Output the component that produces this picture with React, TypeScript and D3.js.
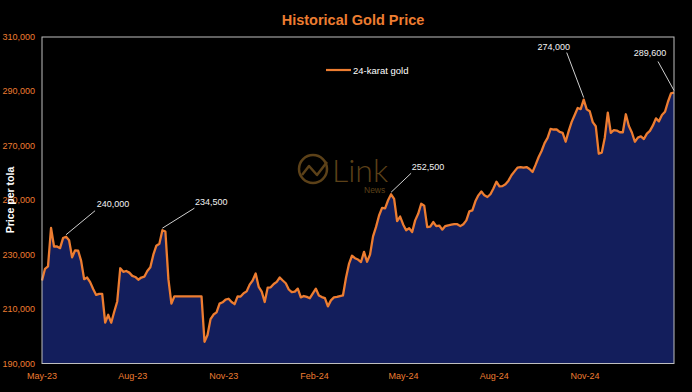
import React from 'react';
import * as d3 from 'd3';

// 24-karat gold, PKR thousands per tola, evenly spaced from May-23 to end Jan-25
const prices = [
  220.5, 224.8, 225.7, 239.8, 233, 233, 232.4, 236.1, 236.6, 235.3,
  229, 231.6, 231.5, 227.7, 221, 221.6, 219.9, 217.4, 215.2, 215.6,
  215.6, 205, 207.9, 205, 209, 212.8, 225, 223.7, 224, 223.4,
  222.2, 221.8, 220.8, 221.6, 221.9, 224, 225.4, 230, 233.3, 234,
  239, 238.5, 221, 212, 214.7, 214.7, 214.7, 214.7, 214.7, 214.7,
  214.7, 214.7, 214.7, 214.7, 198, 200.5, 206.3, 208, 208.8, 212,
  212.5, 213.5, 213.8, 212.6, 211.8, 214.7, 214.6, 215.8, 216.5, 219,
  220.5, 223.1, 218.2, 216.4, 212.6, 217.9, 218, 219.2, 220, 221.6,
  220.5, 219.5, 217.2, 216.2, 216.4, 217.5, 214.3, 214.8, 214.5, 214,
  215.8, 217.5, 215, 214.4, 214, 211, 213.2, 214.3, 214.5, 214.8,
  215, 221.4, 226.6, 229.6, 228.7, 228.2, 227.3, 231, 227.4, 230,
  236.7, 240.2, 244.4, 247.2, 247, 250, 252.2, 250.5, 242.3, 244,
  241.1, 239, 239.7, 238.3, 242.6, 245, 248.7, 248, 240.1, 240.3,
  242, 240.5, 240.7, 239.2, 240.5, 240.8, 241, 241.2, 241.2, 240.5,
  241.2, 242.6, 245.9, 246.3, 249.6, 251.8, 253.2, 251.8, 251.2, 252.2,
  254.3, 256.8, 255.1, 255.2, 255.9, 257.2, 259.2, 260.6, 262, 262.2,
  262, 262.2, 261.5, 260.4, 263, 265.8, 268.1, 271, 272.9, 276.2,
  276, 276, 275.1, 274.8, 271.5, 275.4, 278.8, 281.3, 283.9, 283.5,
  287, 283.4, 282.7, 278.7, 277.2, 267.1, 267.5, 273, 282.2, 274.8,
  275.8, 275.6, 275, 275, 281.6, 277.3, 274.9, 271.5, 273, 273.5,
  272.5, 274.5, 275.5, 277.5, 280.1, 279, 281.3, 282.5, 286.2, 289.3,
  289.6,
];

const startDate = new Date(2023, 4, 1);
const endDate = new Date(2025, 0, 30);

const xTicks = ['May-23', 'Aug-23', 'Nov-23', 'Feb-24', 'May-24', 'Aug-24', 'Nov-24'];
const yTicks = [190, 210, 230, 250, 270, 290, 310];

const calloutLabels = ['240,000', '234,500', '252,500', '274,000', '289,600'];
const calloutIndex = [8, 40, 116, 180, 210];
// [line end dx, line end dy, text dx, text dy] relative to the point
const calloutOffsets = [
  [29, -24, 47, -31],
  [32, -20, 49, -26],
  [20, -19, 37, -25],
  [-17, -45, -30, -51],
  [-16, -29, -24, -38],
];

const W = 692;
const H = 392;
const left = 42;
const right = 674;
const top = 37;
const bottom = 363.5;

const orange = '#ED7D31';
const navy = '#131E5C';
const logo = '#5c4118';
const font = 'Liberation Sans, Arial, sans-serif';

export default function App() {
  const x = d3.scaleLinear().domain([0, prices.length - 1]).range([left, right]);
  const xTime = d3.scaleTime().domain([startDate, endDate]).range([left, right]);
  const y = d3.scaleLinear().domain([190, 310]).range([bottom, top]);
  const parse = d3.timeParse('%b-%y');
  const fmt = d3.format(',');

  const area = d3.area<number>()
    .x((_, i) => x(i))
    .y0(y(190))
    .y1(d => y(d));
  const line = d3.line<number>()
    .x((_, i) => x(i))
    .y(d => y(d));

  return (
    <svg width={W} height={H} style={{ position: 'absolute', left: 0, top: 0, display: 'block' }}>
      <rect x={0} y={0} width={W} height={H} fill="#000" />

      <text x={353} y={20} fill={orange} fontFamily={font} fontSize={14.5} fontWeight="bold"
        textAnchor="middle" dominantBaseline="central">Historical Gold Price</text>

      {/* watermark */}
      <g>
        <circle cx={313} cy={169} r={14} fill="none" stroke={logo} strokeWidth={2.5} />
        <polyline points="302,175 309,166 317,175 327,162" fill="none" stroke={logo} strokeWidth={2.5}
          strokeLinejoin="round" />
        <text x={332} y={182} fill={logo} fontFamily="Lato, Open Sans, sans-serif" fontWeight={300}
          fontSize={32}>Link</text>
        <text x={364} y={193} fill={logo} fontFamily={font} fontSize={8.5}>News</text>
      </g>

      <path d={area(prices) || ''} fill={navy} />
      <path d={line(prices) || ''} fill="none" stroke={orange} strokeWidth={2.3} strokeLinejoin="round" />

      <rect x={left} y={top} width={right - left} height={bottom - top} fill="none" stroke="#bfbfbf" strokeWidth={1} />

      {yTicks.map(t => (
        <text key={t} x={35} y={y(t)} fill={orange} fontFamily={font} fontSize={9}
          textAnchor="end" dominantBaseline="central">{fmt(t * 1000)}</text>
      ))}

      {xTicks.map(t => (
        <text key={t} x={xTime(parse(t) as Date)} y={376} fill={orange} fontFamily={font} fontSize={9}
          textAnchor="middle" dominantBaseline="central">{t}</text>
      ))}

      <text transform={`translate(10,200) rotate(-90)`} fill="#fff" fontFamily={font} fontSize={10.5}
        fontWeight="bold" textAnchor="middle" dominantBaseline="central">Price per tola</text>

      {/* legend */}
      <line x1={326} x2={351} y1={70} y2={70} stroke={orange} strokeWidth={2.2} />
      <text x={353} y={70} fill="#fff" fontFamily={font} fontSize={9.5} dominantBaseline="central">24-karat gold</text>

      {calloutLabels.map((lab, k) => {
        const i = calloutIndex[k];
        const px = x(i);
        const py = y(prices[i]) - 2;
        const [lx, ly, tx, ty] = calloutOffsets[k];
        return (
          <g key={lab}>
            <line x1={px} y1={py} x2={px + lx} y2={py + ly} stroke="#d0d0d0" strokeWidth={1} />
            <text x={px + tx} y={py + ty} fill="#f2f2f2" fontFamily={font} fontSize={9}
              textAnchor="middle" dominantBaseline="central">{lab}</text>
          </g>
        );
      })}
    </svg>
  );
}
